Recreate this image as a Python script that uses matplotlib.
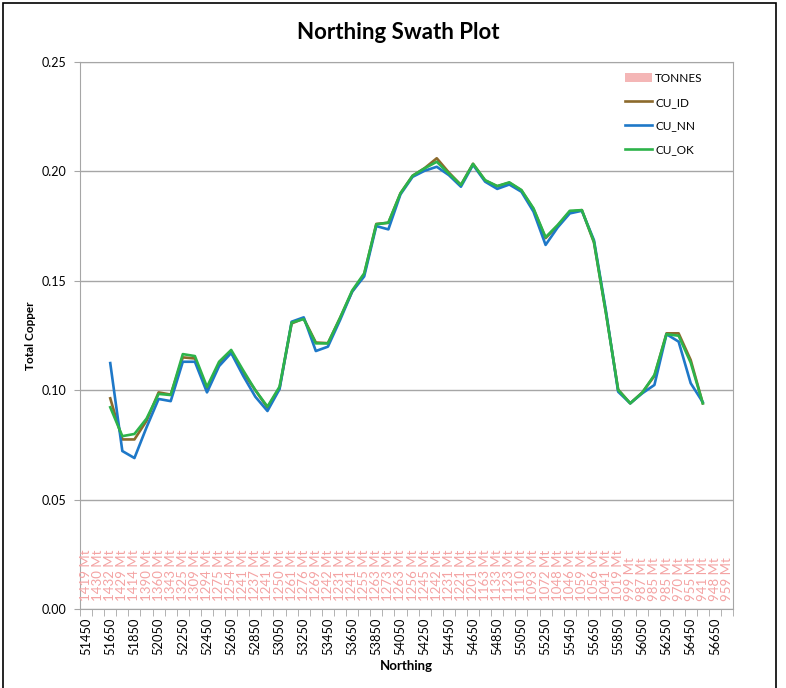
import matplotlib.pyplot as plt
import numpy as np
from matplotlib.patches import Rectangle

# Swath plot along northing: tonnes per slice plus Cu grades by estimation method
northing = list(range(51450, 56751, 100))

tonnes = [1419, 1430, 1432, 1429, 1414, 1390, 1360, 1343, 1325, 1309, 1294, 1275,
          1254, 1241, 1237, 1241, 1250, 1261, 1276, 1269, 1242, 1231, 1241, 1255,
          1263, 1273, 1263, 1256, 1245, 1242, 1231, 1221, 1201, 1163, 1133, 1123,
          1110, 1093, 1072, 1048, 1046, 1059, 1056, 1041, 1019, 999, 987, 985,
          985, 970, 955, 941, 948, 959]

nan = np.nan
cu_id = [nan, nan,
         0.0963, 0.0775, 0.0775, 0.086, 0.099, 0.098, 0.115, 0.1145, 0.1005, 0.112,
         0.1175, 0.108, 0.100, 0.092, 0.101, 0.1305, 0.1328, 0.1218, 0.1215, 0.133,
         0.145, 0.153, 0.176, 0.1765, 0.190, 0.198, 0.2015, 0.206, 0.1995, 0.1938,
         0.2035, 0.1958, 0.1932, 0.1948, 0.1913, 0.1828, 0.1695, 0.1752, 0.1815, 0.1823,
         0.1675, 0.135, 0.1003, 0.094, 0.099, 0.1065, 0.126, 0.126, 0.1138, 0.094,
         nan, nan]
cu_nn = [nan, nan,
         0.1124, 0.0722, 0.069, 0.083, 0.096, 0.095, 0.113, 0.113, 0.099, 0.111,
         0.117, 0.1065, 0.097, 0.0905, 0.1005, 0.1313, 0.1333, 0.1179, 0.1199, 0.132,
         0.145, 0.152, 0.175, 0.1735, 0.1895, 0.1975, 0.2003, 0.2021, 0.1983, 0.193,
         0.203, 0.1953, 0.192, 0.194, 0.1907, 0.1816, 0.1664, 0.1744, 0.1808, 0.182,
         0.1686, 0.136, 0.0993, 0.094, 0.0986, 0.1024, 0.1256, 0.1222, 0.1032, 0.0945,
         nan, nan]
cu_ok = [nan, nan,
         0.0922, 0.079, 0.080, 0.087, 0.0983, 0.0978, 0.1165, 0.1156, 0.1015, 0.113,
         0.1184, 0.109, 0.100, 0.0925, 0.1016, 0.1309, 0.1325, 0.1214, 0.1214, 0.133,
         0.1455, 0.1534, 0.1758, 0.1766, 0.190, 0.198, 0.2014, 0.2044, 0.199, 0.1938,
         0.2034, 0.196, 0.1933, 0.195, 0.1915, 0.1831, 0.1699, 0.1755, 0.182, 0.1823,
         0.1679, 0.135, 0.1001, 0.094, 0.0989, 0.107, 0.1256, 0.1249, 0.1126, 0.094,
         nan, nan]

plt.rcParams['font.family'] = ['Lato', 'DejaVu Sans']
grid_col = '#A6A6A6'

fig = plt.figure(figsize=(7.86, 6.88), dpi=100)
ax = fig.add_axes([0.1018, 0.1148, 0.8308, 0.7951])
x = np.arange(len(northing))

# tonnes on a hidden secondary scale, only the labels show
ax2 = ax.twinx()
bars = ax2.bar(x, tonnes, width=0.6, color='#F4B6B6', label='TONNES')
ax2.set_ylim(0, 1e7)
ax2.axis('off')
ax2.bar_label(bars, labels=[f'{t} Mt' for t in tonnes], rotation=90,
              padding=6, fontsize=9.5, color='#F4A3A3')

l1, = ax.plot(x, cu_id, color='#8C6A2C', lw=1.9, label='CU_ID', zorder=3)
l2, = ax.plot(x, cu_nn, color='#1E78C8', lw=1.9, label='CU_NN', zorder=4)
l3, = ax.plot(x, cu_ok, color='#2DB34A', lw=1.9, label='CU_OK', zorder=5)

ax.set_xlim(-0.5, len(northing) - 0.5)
ax.set_ylim(0, 0.25)
ax.set_yticks(np.arange(0, 0.2501, 0.05))
ax.set_yticklabels([f'{v:.2f}' for v in np.arange(0, 0.2501, 0.05)], fontsize=9)
ax.yaxis.grid(True, color=grid_col, lw=1)
ax.set_axisbelow(True)

ax.set_xticks(x[::2])
ax.set_xticklabels([str(n) for n in northing[::2]], rotation=90, fontsize=9.3)
ax.set_xticks(np.arange(-0.5, len(northing), 1), minor=True)
ax.tick_params(axis='x', which='major', length=0, pad=6)
ax.tick_params(axis='x', which='minor', length=5, color=grid_col)
ax.tick_params(axis='y', length=4, color=grid_col, pad=6)
for s in ax.spines.values():
    s.set_color(grid_col)

ax.set_xlabel('Northing', fontsize=9.5, fontweight='bold', labelpad=4)
ax.set_ylabel('Total Copper', fontsize=8.5, fontweight='bold', labelpad=4)
fig.text(0.507, 0.953, 'Northing Swath Plot', ha='center', va='center',
         fontsize=16, fontweight='bold')

ax.legend([bars, l1, l2, l3], ['TONNES', 'CU_ID', 'CU_NN', 'CU_OK'],
          loc='upper right', bbox_to_anchor=(0.97, 1.0), frameon=False,
          fontsize=8.5, labelspacing=1.1, handlelength=2.3, handletextpad=0.3)

fig.patches.append(Rectangle((3 / 786, -0.1), 773 / 786, 1.1 - 3 / 688,
                             transform=fig.transFigure, fill=False,
                             edgecolor='black', lw=1.2))

fig.savefig('out.png', dpi=100)
